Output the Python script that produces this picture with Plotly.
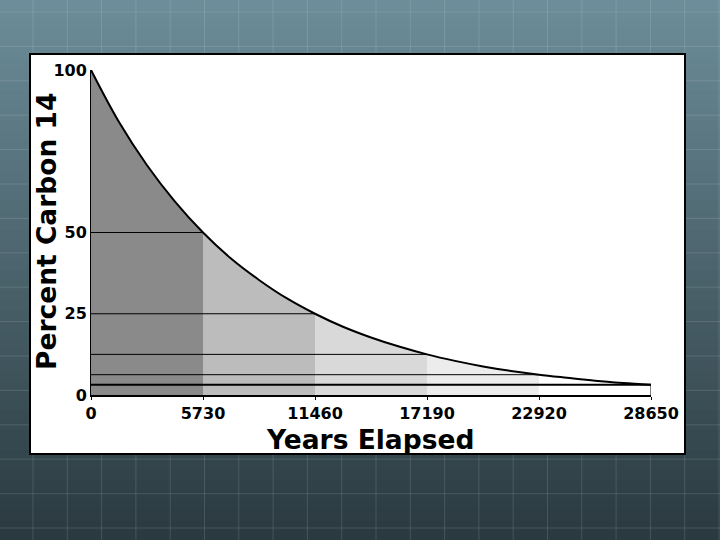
import plotly.graph_objects as go

# ---- data ----
years = [0, 5730, 11460, 17190, 22920, 28650]
percent = [100, 50, 25, 12.5, 6.25, 3.125]
# curve readings (quarter half-life steps)
curve_years = [0, 1432, 2865, 4297, 5730, 7162, 8595, 10027, 11460, 12892, 14325,
               15757, 17190, 18622, 20055, 21487, 22920, 24352, 25785, 27217, 28650]
curve_percent = [100, 84, 70.7, 59.5, 50, 42, 35.4, 29.7, 25, 21, 17.7,
                 14.9, 12.5, 10.5, 8.8, 7.4, 6.25, 5.3, 4.4, 3.7, 3.125]
band_colors = ["#8a8a8a", "#bcbcbc", "#d9d9d9", "#ececec", "#ffffff"]
x_ticks = [0, 5730, 11460, 17190, 22920, 28650]
x_ticktext = ["0", "5730", "11460", "17190", "22920", "28650"]
y_ticks = [0, 25, 50, 100]
y_ticktext = ["0", "25", "50", "100"]

W, H = 720, 540
L, R, T, B = 91, 69, 70, 145
pw, ph = W - L - R, H - T - B


def px_x(p):
    return (p - L) / pw


def px_y(p):
    return (H - B - p) / ph


shapes = []
# slide background gradient (stripes)
top_c = (0x6c, 0x8d, 0x99)
bot_c = (0x2b, 0x3a, 0x40)
n = 54
for i in range(n):
    t = i / (n - 1)
    c = tuple(int(top_c[k] + (bot_c[k] - top_c[k]) * t) for k in range(3))
    shapes.append(dict(type="rect", xref="paper", yref="paper", layer="below",
                       x0=px_x(0), x1=px_x(W), y0=px_y(i * 10), y1=px_y(i * 10 + 11),
                       fillcolor="rgb(%d,%d,%d)" % c, line=dict(width=0)))
# faint grid lines on the slide
gx = 33.0
while gx < W:
    shapes.append(dict(type="line", xref="paper", yref="paper", layer="below",
                       x0=px_x(gx), x1=px_x(gx), y0=px_y(0), y1=px_y(H),
                       line=dict(color="rgba(255,255,255,0.13)", width=1)))
    gx += 34.3
gy = 12.0
while gy < H:
    shapes.append(dict(type="line", xref="paper", yref="paper", layer="below",
                       x0=px_x(0), x1=px_x(W), y0=px_y(gy), y1=px_y(gy),
                       line=dict(color="rgba(255,255,255,0.13)", width=1)))
    gy += 34.4
# white panel
shapes.append(dict(type="rect", xref="paper", yref="paper", layer="below",
                   x0=px_x(30), x1=px_x(685), y0=px_y(454), y1=px_y(54),
                   fillcolor="white", line=dict(color="black", width=2)))
# half-life bands
for i in range(len(years) - 1):
    shapes.append(dict(type="rect", xref="x", yref="y", layer="below",
                       x0=years[i], x1=years[i + 1], y0=0, y1=percent[0],
                       fillcolor=band_colors[i], line=dict(width=0)))
# horizontal lines at each half-life level
for i in range(1, len(years)):
    shapes.append(dict(type="line", xref="x", yref="y", layer="above",
                       x0=0, x1=years[i], y0=percent[i], y1=percent[i],
                       line=dict(color="black", width=2 if i == len(years) - 1 else 1)))
# closing vertical line at the end
shapes.append(dict(type="line", xref="x", yref="y", layer="above",
                   x0=years[-1], x1=years[-1], y0=0, y1=percent[-1],
                   line=dict(color="black", width=1)))

fig = go.Figure()
fig.add_trace(go.Scatter(x=[curve_years[0], curve_years[-1]],
                         y=[curve_percent[0], curve_percent[0]],
                         mode="lines", line=dict(width=0), showlegend=False,
                         hoverinfo="skip"))
fig.add_trace(go.Scatter(x=curve_years, y=curve_percent, mode="lines",
                         line=dict(color="black", width=2, shape="spline", smoothing=1.0),
                         fill="tonexty", fillcolor="white", showlegend=False))

tick_font = dict(family="DejaVu Sans", size=16, color="black", weight="bold")
fig.update_layout(
    width=W, height=H,
    margin=dict(l=L, r=R, t=T, b=B, pad=0),
    paper_bgcolor="#4a6670",
    plot_bgcolor="white",
    shapes=shapes,
    showlegend=False,
    xaxis=dict(range=[0, 28650], tickvals=x_ticks, ticktext=x_ticktext,
               showgrid=False, zeroline=False, showline=True, linecolor="black",
               linewidth=2, ticks="outside", ticklen=3, tickcolor="black", tickwidth=1,
               tickfont=tick_font),
    yaxis=dict(range=[0, 100], tickvals=y_ticks, ticktext=y_ticktext,
               showgrid=False, zeroline=False, showline=True, linecolor="black",
               linewidth=1, ticks="", tickfont=tick_font),
    annotations=[
        dict(text="<b>Years Elapsed</b>", xref="paper", yref="paper",
             x=px_x(370), y=px_y(439), xanchor="center", yanchor="middle",
             showarrow=False,
             font=dict(family="DejaVu Sans", size=26.5, color="black")),
        dict(text="<b>Percent Carbon 14</b>", xref="paper", yref="paper",
             x=px_x(46), y=px_y(232), xanchor="center", yanchor="middle",
             showarrow=False, textangle=-90,
             font=dict(family="DejaVu Sans", size=26.5, color="black")),
    ],
)

fig.write_html("out.html", config={"displayModeBar": False},
               post_script="document.body.style.margin='0';document.body.style.padding='0';document.body.style.overflow='hidden';")
